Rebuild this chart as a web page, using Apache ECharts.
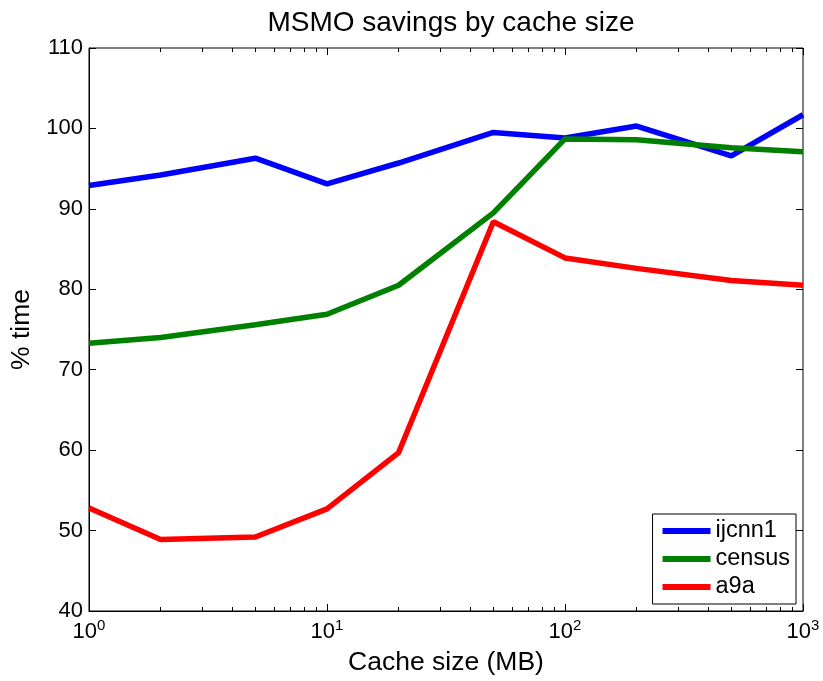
<!DOCTYPE html>
<html>
<head>
<meta charset="utf-8">
<script src="https://cdn.jsdelivr.net/npm/echarts@6/dist/echarts.min.js"></script>
<style>html,body{margin:0;padding:0;background:#fff}#c{width:823px;height:681px}</style>
</head>
<body>
<div id="c"></div>
<script>
const cacheSizes = [1, 2, 5, 10, 20, 50, 100, 200, 500, 1000];
const ijcnn1 = [92.9, 94.2, 96.3, 93.1, 95.7, 99.5, 98.8, 100.3, 96.6, 101.7];
const census = [73.3, 74.0, 75.6, 76.9, 80.5, 89.5, 98.7, 98.6, 97.6, 97.1];
const a9a = [52.8, 48.9, 49.2, 52.7, 59.7, 88.4, 83.9, 82.6, 81.1, 80.5];
const minorTicks = [2,3,4,5,6,7,8,9,20,30,40,50,60,70,80,90,200,300,400,500,600,700,800,900];
const exponents = {1: '0', 10: '1', 100: '2', 1000: '3'};

const FONT = 'Liberation Sans, Arial, Helvetica, sans-serif';
const chart = echarts.init(document.getElementById('c'), null, {renderer: 'canvas'});

function pairs(vals) { return cacheSizes.map((x, i) => [x, vals[i]]); }

const baseX = {
  type: 'log', logBase: 10, min: 1, max: 1000,
  splitLine: {show: false}, minorTick: {show: false}
};

chart.setOption({
  animation: false,
  backgroundColor: '#fff',
  title: {
    text: 'MSMO savings by cache size', left: 446, textAlign: 'center', top: 4,
    textStyle: {fontFamily: FONT, fontSize: 28, fontWeight: 'normal', color: '#000'}
  },
  grid: {left: 89, right: 20, top: 48, bottom: 69, show: true, borderColor: '#000', borderWidth: 1, backgroundColor: 'transparent'},
  legend: {
    right: 27, bottom: 77, orient: 'vertical',
    itemWidth: 48, itemHeight: 6, itemGap: 4, icon: 'rect',
    borderColor: '#000', borderWidth: 1, padding: [5, 6, 5, 10],
    backgroundColor: '#fff',
    textStyle: {fontFamily: FONT, fontSize: 23.5, color: '#000'},
    data: ['ijcnn1', 'census', 'a9a']
  },
  xAxis: [
    Object.assign({}, baseX, {
      position: 'bottom',
      name: 'Cache size (MB)', nameLocation: 'middle', nameGap: 38,
      nameTextStyle: {fontFamily: FONT, fontSize: 26.5, color: '#000', verticalAlign: 'top'},
      axisLine: {show: true, lineStyle: {color: '#000', width: 1}},
      axisTick: {show: true, inside: true, length: 7, lineStyle: {color: '#000'}},
      axisLabel: {
        margin: 7, color: '#000',
        formatter: v => '{a|10}{b|' + (exponents[Math.round(v)] || '') + '}',
        rich: {
          a: {fontFamily: FONT, fontSize: 22, color: '#000'},
          b: {fontFamily: FONT, fontSize: 15, color: '#000', padding: [0, 0, 13, 0]}
        }
      }
    }),
    Object.assign({}, baseX, {
      position: 'bottom',
      axisLine: {show: false}, axisLabel: {show: false},
      axisTick: {show: true, inside: true, length: 4, customValues: minorTicks, lineStyle: {color: '#000'}}
    }),
    Object.assign({}, baseX, {
      position: 'top',
      axisLine: {show: false}, axisLabel: {show: false},
      axisTick: {show: true, inside: true, length: 7, lineStyle: {color: '#000'}}
    }),
    Object.assign({}, baseX, {
      position: 'top',
      axisLine: {show: false}, axisLabel: {show: false},
      axisTick: {show: true, inside: true, length: 4, customValues: minorTicks, lineStyle: {color: '#000'}}
    })
  ],
  yAxis: [
    {
      type: 'value', min: 40, max: 110, interval: 10, position: 'left',
      name: '% time', nameLocation: 'middle', nameGap: 52,
      nameTextStyle: {fontFamily: FONT, fontSize: 26.5, color: '#000'},
      splitLine: {show: false},
      axisLine: {show: true, lineStyle: {color: '#000', width: 1}},
      axisTick: {show: true, inside: true, length: 7, lineStyle: {color: '#000'}},
      axisLabel: {margin: 6, fontFamily: FONT, fontSize: 22, color: '#000'}
    },
    {
      type: 'value', min: 40, max: 110, interval: 10, position: 'right',
      splitLine: {show: false},
      axisLine: {show: false}, axisLabel: {show: false},
      axisTick: {show: true, inside: true, length: 7, lineStyle: {color: '#000'}}
    }
  ],
  series: [
    {name: 'ijcnn1', type: 'line', data: pairs(ijcnn1), symbol: 'none', lineStyle: {width: 5.5, color: '#0000ff'}, itemStyle: {color: '#0000ff'}, z: 3},
    {name: 'census', type: 'line', data: pairs(census), symbol: 'none', lineStyle: {width: 5.5, color: '#008000'}, itemStyle: {color: '#008000'}, z: 4},
    {name: 'a9a', type: 'line', data: pairs(a9a), symbol: 'none', lineStyle: {width: 5.5, color: '#ff0000'}, itemStyle: {color: '#ff0000'}, z: 5}
  ]
});
</script>
</body>
</html>
